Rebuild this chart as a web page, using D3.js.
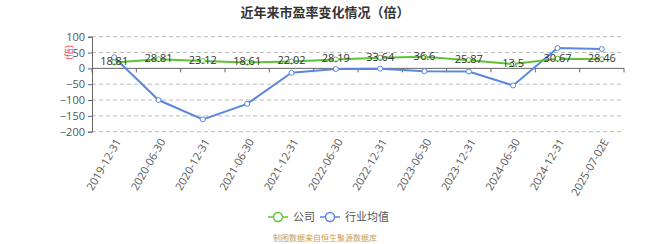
<!DOCTYPE html>
<html>
<head>
<meta charset="utf-8">
<script src="https://cdn.jsdelivr.net/npm/d3@7/dist/d3.min.js"></script>
<style>
  body { margin: 0; background: #fff; }
  svg { display: block; font-family: "Noto Sans CJK SC", "Open Sans", sans-serif; }
</style>
</head>
<body>
<div id="chart"></div>
<script>
const categories = ['2019-12-31', '2020-06-30', '2020-12-31', '2021-06-30', '2021-12-31', '2022-06-30',
  '2022-12-31', '2023-06-30', '2023-12-31', '2024-06-30', '2024-12-31', '2025-07-02E'];
const companyValues = [18.81, 28.81, 23.12, 18.61, 22.02, 28.19, 33.64, 36.6, 25.87, 13.5, 30.67, 28.46];
const industryValues = [35, -100, -161, -112, -14, -2, -1, -9, -10, -54, 64, 61];
const yTicks = [100, 50, 0, -50, -100, -150, -200];

const width = 650, height = 244;
const margin = {left: 92, right: 26, top: 36.7, bottom: 112.3};
const green = '#5fc233', blue = '#5b87e0';

const svg = d3.select('#chart').append('svg')
  .attr('width', width)
  .attr('height', height);

// 标题-----------------------------------------------------------------
svg.append('text')
  .attr('x', width / 2)
  .attr('y', 17)
  .attr('text-anchor', 'middle')
  .attr('font-size', '13px')
  .attr('font-weight', 'bold')
  .attr('fill', '#333')
  .text('近年来市盈率变化情况（倍）');

const x = d3.scaleBand()
  .domain(categories)
  .range([margin.left, width - margin.right]);
const y = d3.scaleLinear()
  .domain([-200, 100])
  .range([height - margin.bottom, margin.top]);

// グリッド-------------------------------------------------------------
svg.append('g')
  .selectAll('line')
  .data(yTicks.filter(d => d !== 0))
  .enter()
  .append('line')
  .attr('x1', margin.left)
  .attr('x2', width - margin.right)
  .attr('y1', d => y(d))
  .attr('y2', d => y(d))
  .attr('stroke', '#bbb')
  .attr('stroke-dasharray', '4,3');

// y軸------------------------------------------------------------------
const yAxis = svg.append('g')
  .attr('transform', 'translate(' + margin.left + ',0)')
  .call(d3.axisLeft(y).tickValues(yTicks).tickSize(4).tickPadding(3));
yAxis.select('.domain').attr('stroke', '#666');
yAxis.selectAll('.tick line').attr('stroke', '#666');
yAxis.selectAll('.tick text').attr('font-size', '11px').attr('fill', '#555')
  .style('font-family', '"Open Sans", sans-serif');

svg.append('text')
  .attr('transform', 'translate(72,' + y(50) + ') rotate(-90)')
  .attr('text-anchor', 'middle')
  .attr('font-size', '9px')
  .attr('fill', '#e04040')
  .text('(倍)');

// x軸------------------------------------------------------------------
const xAxis = svg.append('g')
  .attr('transform', 'translate(0,' + y(0) + ')');
xAxis.append('line')
  .attr('x1', margin.left)
  .attr('x2', width - margin.right)
  .attr('stroke', '#666');
xAxis.selectAll('.tk')
  .data(categories.concat(['end']))
  .enter()
  .append('line')
  .attr('x1', (d, i) => margin.left + i * x.bandwidth())
  .attr('x2', (d, i) => margin.left + i * x.bandwidth())
  .attr('y1', 0)
  .attr('y2', 4)
  .attr('stroke', '#666');

svg.append('g')
  .selectAll('text')
  .data(categories)
  .enter()
  .append('text')
  .attr('transform', d => 'translate(' + (x(d) + x.bandwidth() / 2 + 4) + ',' + (y(-200) + 8) + ') rotate(-60)')
  .attr('text-anchor', 'end')
  .attr('dy', '0.35em')
  .attr('font-size', '11px')
  .attr('fill', '#555')
  .style('font-family', '"Open Sans", sans-serif')
  .text(d => d);

// 折れ線---------------------------------------------------------------
const cx = d => x(d) + x.bandwidth() / 2;
const line = d3.line()
  .x(d => cx(d.cat))
  .y(d => y(d.v));

const drawSeries = (values, color) => {
  const data = categories.map((c, i) => ({cat: c, v: values[i]}));
  svg.append('path')
    .datum(data)
    .attr('d', line)
    .attr('fill', 'none')
    .attr('stroke', color)
    .attr('stroke-width', 2);
  svg.append('g')
    .selectAll('circle')
    .data(data)
    .enter()
    .append('circle')
    .attr('cx', d => cx(d.cat))
    .attr('cy', d => y(d.v))
    .attr('r', 2.5)
    .attr('fill', '#fff')
    .attr('stroke', color)
    .attr('stroke-width', 1);
  return data;
};

drawSeries(industryValues, blue);
const companyData = drawSeries(companyValues, green);

svg.append('g')
  .selectAll('text')
  .data(companyData)
  .enter()
  .append('text')
  .attr('x', d => cx(d.cat))
  .attr('y', d => y(d.v) + 3)
  .attr('text-anchor', 'middle')
  .attr('font-size', '11px')
  .attr('fill', '#333')
  .style('font-family', '"Open Sans", sans-serif')
  .text(d => d.v);

// 凡例-----------------------------------------------------------------
const legend = [{name: '公司', color: green, x: 268}, {name: '行业均值', color: blue, x: 320}];
const lg = svg.append('g')
  .selectAll('g')
  .data(legend)
  .enter()
  .append('g')
  .attr('transform', d => 'translate(' + d.x + ',217)');
lg.append('line')
  .attr('x1', 0).attr('x2', 20)
  .attr('stroke', d => d.color)
  .attr('stroke-width', 1.5);
lg.append('circle')
  .attr('cx', 10).attr('r', 4.5)
  .attr('fill', '#fff')
  .attr('stroke', d => d.color)
  .attr('stroke-width', 1.5);
lg.append('text')
  .attr('x', 25)
  .attr('dy', '0.35em')
  .attr('font-size', '11px')
  .attr('fill', '#555')
  .text(d => d.name);

svg.append('text')
  .attr('x', 325)
  .attr('y', 241)
  .attr('text-anchor', 'middle')
  .attr('font-size', '8px')
  .attr('fill', '#c8a050')
  .text('制图数据来自恒生聚源数据库');
</script>
</body>
</html>
